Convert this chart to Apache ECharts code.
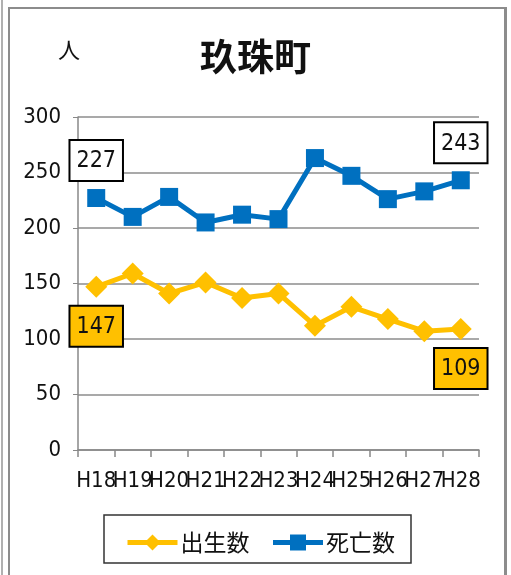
<!DOCTYPE html>
<html><head><meta charset="utf-8">
<script src="https://cdn.jsdelivr.net/npm/echarts@6/dist/echarts.min.js"></script>
<style>html,body{margin:0;padding:0;background:#fff}#c{width:511px;height:575px}</style>
</head><body><div id="c"></div>
<script>
const categories = ['H18','H19','H20','H21','H22','H23','H24','H25','H26','H27','H28'];
const births = [147,159,141,151,137,141,112,129,118,107,109];
const deaths = [227,210,228,205,212,208,263,247,226,233,243];
const yTicks = {min:0, max:300, interval:50};

const numFont = '"Liberation Sans Narrow","DejaVu Sans Condensed","Liberation Sans",sans-serif';
const cjk = '"Noto Sans CJK JP","Noto Sans CJK SC",sans-serif';

function withEndLabels(arr, pos, bg){
  return arr.map((v,i)=>{
    if(i===0||i===arr.length-1){
      return {value:v,label:{show:true,position:pos,distance:9,
        backgroundColor:bg,borderColor:'#000',borderWidth:2,
        padding:[9,6,7,6],fontSize:23,fontFamily:numFont,color:'#111',formatter:'{c}'}};
    }
    return v;
  });
}

const chart = echarts.init(document.getElementById('c'));
chart.setOption({
  animation:false,
  backgroundColor:'#fff',
  graphic:[
    {type:'rect',shape:{x:1,y:0,width:2,height:575},style:{fill:'#b0b0b0'}},
    {type:'rect',shape:{x:8,y:7,width:2,height:568},style:{fill:'#8c8c8c'}},
    {type:'rect',shape:{x:8,y:7,width:499,height:2},style:{fill:'#8c8c8c'}},
    {type:'rect',shape:{x:504,y:7,width:3,height:568},style:{fill:'#8c8c8c'}},
    {type:'text',left:58,top:39,style:{text:'人',fontSize:22,fontFamily:cjk,fill:'#111'}},
    {type:'rect',shape:{x:104,y:515,width:307,height:48},style:{fill:'none',stroke:'#333',lineWidth:1.5}}
  ],
  title:{text:'玖珠町',left:'center',top:33,
    textStyle:{fontSize:37,fontWeight:'bold',fontFamily:cjk,color:'#111'}},
  grid:{left:78,right:32,top:117,bottom:125},
  legend:{bottom:16,left:120,itemWidth:50,itemHeight:20,itemGap:21,
    lineStyle:{width:5},
    textStyle:{fontSize:23,fontFamily:cjk,color:'#111',padding:[0,0,0,-2]},
    data:['出生数','死亡数']},
  xAxis:{type:'category',data:categories,boundaryGap:true,
    axisLine:{lineStyle:{color:'#888',width:1.5}},
    axisTick:{show:true,length:7,lineStyle:{color:'#888',width:1.5}},
    axisLabel:{fontSize:22,fontFamily:numFont,color:'#111',margin:20,interval:0}},
  yAxis:{type:'value',min:yTicks.min,max:yTicks.max,interval:yTicks.interval,
    axisLine:{show:true,lineStyle:{color:'#888',width:1.5}},
    axisTick:{show:true,length:5,lineStyle:{color:'#888'}},
    splitLine:{lineStyle:{color:'#8c8c8c',width:1.5}},
    axisLabel:{fontSize:22,fontFamily:numFont,color:'#111',margin:17}},
  series:[
    {name:'出生数',type:'line',data:withEndLabels(births,'bottom','#ffc000'),
      symbol:'diamond',symbolSize:[22,22],
      itemStyle:{color:'#ffc000'},lineStyle:{color:'#ffc000',width:5}},
    {name:'死亡数',type:'line',data:withEndLabels(deaths,'top','#fff'),
      symbol:'rect',symbolSize:18,
      itemStyle:{color:'#0070c0'},lineStyle:{color:'#0070c0',width:5}}
  ]
});
</script></body></html>
